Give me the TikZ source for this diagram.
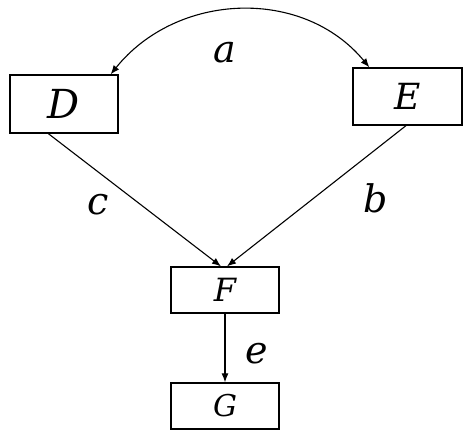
\documentclass[tikz,border=0pt]{standalone}
\usepackage{fontspec}
\setmainfont{DejaVu Serif}
\usetikzlibrary{arrows.meta}
\begin{document}
\begin{tikzpicture}[x=1pt,y=-1pt,
  box/.style={draw, line width=1.3pt, inner sep=0pt, minimum width=108pt},
  lbl/.style={font=\fontsize{38}{42}\selectfont\itshape, anchor=base, inner sep=0pt},
  arr/.style={line width=1.1pt, -{Latex[length=9pt,width=7pt]}}]
\useasboundingbox (0,0) rectangle (471,439);
\node[box, minimum height=58pt, font=\fontsize{40}{44}\selectfont\itshape] (D) at (64,104) {D};
\node[box, minimum width=109pt, minimum height=57pt, font=\fontsize{36}{40}\selectfont\itshape] (E) at (407.5,96.5) {E};
\node[box, minimum height=46pt, font=\fontsize{32}{36}\selectfont\itshape] (F) at (225,290) {F};
\node[box, minimum height=46pt, font=\fontsize{30}{34}\selectfont\itshape] (G) at (225,406) {G};
\draw[line width=1.1pt, {Latex[length=9pt,width=7pt]}-{Latex[length=9pt,width=7pt]}]
  ([xshift=-8pt]D.north east) .. controls (177,-8) and (303,-13) .. ([xshift=17pt]E.north west);
\draw[arr] ([xshift=39pt]D.south west) -- ([xshift=-4pt]F.north);
\draw[arr] ([xshift=-1.5pt]E.south) -- ([xshift=2pt]F.north);
\draw[arr] (F.south) -- (G.north);
\node[lbl] (la) at (225,62) {a};
\node[lbl] (lc) at (98,214) {c};
\node[lbl] (lb) at (376,212) {b};
\node[lbl] (le) at (257,363) {e};
\end{tikzpicture}
\end{document}
